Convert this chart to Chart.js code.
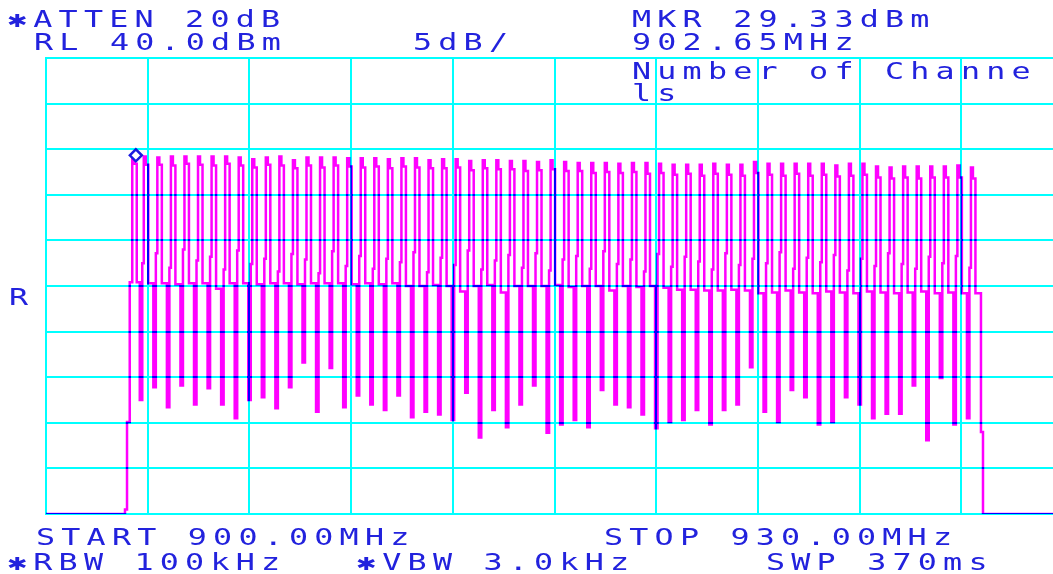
<!DOCTYPE html>
<html>
<head>
<meta charset="utf-8">
<script src="https://cdn.jsdelivr.net/npm/chart.js@4.4.1/dist/chart.umd.min.js"></script>
<style>
  html, body { margin: 0; padding: 0; background: #fff; overflow: hidden; }
  canvas { display: block; }
</style>
</head>
<body>
<canvas id="sa" width="1075" height="574" style="width:1075px;height:574px"></canvas>
<script>
// Analyzer settings
const START_MHZ = 900;
const STOP_MHZ = 930;
const REF_DBM = 40;
const DB_PER_DIV = 5;
const DIVS = 10;

// Marker readout
const markerMHz = 902.65;
const markerDbm = 29.33;

// Left edge of each channel burst (MHz)
const channelStartMHz = [
  902.50, 902.84, 903.24, 903.64, 904.04, 904.44, 904.84, 905.24, 905.64, 906.04,
  906.44, 906.84, 907.24, 907.64, 908.04, 908.44, 908.84, 909.24, 909.64, 910.04,
  910.44, 910.84, 911.24, 911.64, 912.04, 912.44, 912.84, 913.24, 913.64, 914.04,
  914.44, 914.84, 915.24, 915.64, 916.04, 916.44, 916.84, 917.24, 917.64, 918.04,
  918.44, 918.84, 919.24, 919.64, 920.04, 920.44, 920.84, 921.24, 921.64, 922.04,
  922.44, 922.84, 923.24, 923.64, 924.04, 924.44, 924.84, 925.24, 925.64, 926.04,
  926.44, 926.84, 927.24
];

// Peak level of each channel (dBm)
const peakDbm = [
  29.33, 29.2, 29.1, 29.2, 29.2, 29.2, 29.2, 29.2, 29.1, 28.9,
  29.1, 29.2, 28.8, 29.1, 29.1, 29.1, 29.0, 29.0, 29.0, 28.9,
  29.0, 29.0, 28.8, 28.9, 28.9, 28.7, 28.8, 28.8, 28.7, 28.7,
  28.6, 28.8, 28.6, 28.5, 28.5, 28.5, 28.4, 28.5, 28.5, 28.4,
  28.3, 28.3, 28.3, 28.4, 28.3, 28.3, 28.6, 28.4, 28.4, 28.4,
  28.4, 28.4, 28.2, 28.4, 28.4, 28.1, 28.0, 28.1, 28.1, 28.1,
  28.1, 28.2, 28.0
];

// Right shoulder just below each peak (dBm)
const shoulderDbm = [
  28.4, 28.3, 28.3, 28.2, 28.4, 28.3, 28.2, 28.4, 28.2, 28.0,
  28.3, 28.2, 27.9, 28.2, 28.0, 28.2, 28.1, 28.0, 28.1, 27.9,
  28.1, 28.0, 27.9, 27.9, 28.0, 27.7, 27.9, 27.8, 27.8, 27.6,
  27.7, 27.8, 27.6, 27.6, 27.4, 27.5, 27.4, 27.5, 27.3, 27.4,
  27.2, 27.3, 27.1, 27.3, 27.2, 27.1, 27.4, 27.2, 27.1, 27.3,
  27.1, 27.2, 27.0, 27.1, 27.2, 26.9, 26.8, 26.9, 26.8, 26.9,
  26.9, 26.9, 26.8
];

// Step on the rising edge of each channel (dBm)
const stepDbm = [
  15.4, 17.5, 18.6, 17.0, 19.0, 17.8, 18.2, 16.8, 18.9, 17.4,
  18.0, 16.6, 18.5, 17.9, 16.4, 18.8, 17.2, 18.3, 16.9, 18.0,
  17.6, 18.7, 16.5, 18.1, 17.3, 18.9, 16.8, 17.8, 18.4, 17.0,
  18.6, 16.7, 17.9, 18.3, 16.9, 18.8, 17.4, 17.9, 16.6, 18.5,
  17.1, 18.2, 17.7, 16.8, 18.6, 17.3, 18.0, 17.5, 18.7, 16.9,
  18.1, 17.6, 18.4, 16.7, 18.0, 17.2, 18.6, 17.4, 16.9, 18.2,
  17.5, 18.3, 17.0
];

// Level the trace settles to after each channel (dBm)
const shelfDbm = [
  15.4, 15.3, 15.3, 15.2, 15.3, 15.3, 14.7, 15.3, 15.3, 15.2,
  15.3, 15.3, 15.2, 15.3, 15.3, 15.3, 15.2, 15.3, 15.2, 15.3,
  15.0, 15.0, 15.1, 15.0, 14.4, 15.0, 15.1, 14.3, 15.0, 15.0,
  15.0, 15.1, 14.9, 15.0, 15.0, 14.5, 15.0, 14.9, 15.0, 14.8,
  14.6, 14.6, 14.5, 14.5, 14.6, 14.5, 14.2, 14.3, 14.5, 14.3,
  14.2, 14.4, 14.3, 14.2, 14.4, 14.3, 14.2, 14.3, 14.4, 14.2,
  14.3, 14.2, 14.2
];

// Minimum between neighbouring channels (dBm)
const dipDbm = [
  2.5, 3.9, 1.7, 4.1, 2.0, 3.8, 2.0, 0.5, 2.5, 2.8,
  1.6, 3.9, 6.6, 1.2, 6.0, 1.7, 3.0, 2.0, 1.4, 3.0,
  0.6, 1.2, 0.9, 0.3, 3.3, -1.6, 1.4, -0.5, 2.0, 4.1,
  -1.1, -0.2, 0.3, -0.5, 3.6, 2.0, 1.7, 0.9, -0.6, 0.1,
  0.3, 1.4, -0.2, 1.4, 2.0, 6.1, 1.2, 0.1, 3.6, 2.8,
  -0.2, 0.1, 2.8, 2.0, 0.5, 1.0, 1.0, 4.1, -1.9, 4.9,
  -0.2, 0.5
];

// Noise floor and band edges (MHz, dBm)
const leadIn = [
  [900.00, -10], [902.33, -10], [902.33, -9.5], [902.39, -9.5],
  [902.39, 0.1], [902.47, 0.1], [902.47, 15.4]
];
const leadOut = [
  [927.58, 14.2], [927.58, -1.0], [927.64, -1.0], [927.64, -10], [930.00, -10]
];

const TEXT_BLUE = '#2222dd';
const TRACE = '#ff00ff';
const GRATICULE = '#00ffff';

// one display column, in MHz
const COL = (STOP_MHZ - START_MHZ) / 1017;

function buildTrace() {
  const pts = leadIn.map(([x, y]) => ({ x, y }));
  channelStartMHz.forEach((r, k) => {
    if (k > 0) {
      pts.push(
        { x: r - 2.5 * COL, y: shelfDbm[k - 1] },
        { x: r - 2.5 * COL, y: dipDbm[k - 1] },
        { x: r, y: dipDbm[k - 1] }
      );
    }
    pts.push(
      { x: r, y: stepDbm[k] },
      { x: r + 1.5 * COL, y: stepDbm[k] },
      { x: r + 1.5 * COL, y: peakDbm[k] },
      { x: r + 3.5 * COL, y: peakDbm[k] },
      { x: r + 3.5 * COL, y: shoulderDbm[k] },
      { x: r + 6 * COL, y: shoulderDbm[k] },
      { x: r + 6 * COL, y: shelfDbm[k] }
    );
  });
  leadOut.forEach(([x, y]) => pts.push({ x, y }));
  return pts;
}

const readout = [
  { text: '\u2731ATTEN 20dB', x: 8, y: 27 },
  { text: 'MKR ' + markerDbm.toFixed(2) + 'dBm', x: 632, y: 27 },
  { text: 'RL ' + REF_DBM.toFixed(1) + 'dBm', x: 34, y: 50 },
  { text: DB_PER_DIV + 'dB/', x: 413, y: 50 },
  { text: markerMHz.toFixed(2) + 'MHz', x: 632, y: 50 },
  { text: 'Number of Channe', x: 632, y: 79 },
  { text: 'ls', x: 632, y: 101 },
  { text: 'R', x: 9, y: 305 },
  { text: 'START ' + START_MHZ.toFixed(2) + 'MHz', x: 36, y: 545 },
  { text: 'STOP ' + STOP_MHZ.toFixed(2) + 'MHz', x: 604, y: 545 },
  { text: '\u2731RBW 100kHz', x: 8, y: 570 },
  { text: '\u2731VBW 3.0kHz', x: 357, y: 570 },
  { text: 'SWP 370ms', x: 766, y: 570 }
];

const PITCH = 25.3;

const screenPlugin = {
  id: 'screen',
  beforeDraw(chart) {
    const ctx = chart.ctx;
    ctx.save();
    ctx.fillStyle = '#ffffff';
    ctx.fillRect(0, 0, chart.width, chart.height);
    ctx.restore();
  },
  afterDatasetsDraw(chart) {
    // graticule is laid over the trace so crossings darken to blue
    chart.ctx.globalCompositeOperation = 'multiply';
  },
  afterDraw(chart) {
    const ctx = chart.ctx;
    ctx.globalCompositeOperation = 'source-over';
    ctx.save();
    ctx.fillStyle = TEXT_BLUE;
    ctx.textBaseline = 'alphabetic';
    ctx.textAlign = 'left';
    ctx.font = '23px "DejaVu Sans Mono", monospace';
    readout.forEach(item => {
      [...item.text].forEach((ch, i) => {
        ctx.save();
        ctx.translate(item.x + i * PITCH, item.y);
        ctx.scale(1.38, 1);
        ctx.fillText(ch, 0, 0);
        ctx.restore();
      });
    });
    ctx.restore();
  }
};

new Chart(document.getElementById('sa'), {
  type: 'scatter',
  data: {
    datasets: [
      {
        data: buildTrace(),
        showLine: true,
        borderColor: TRACE,
        borderWidth: 2.5,
        pointRadius: 0,
        tension: 0,
        order: 2
      },
      {
        data: [{ x: markerMHz, y: markerDbm }],
        showLine: false,
        pointStyle: 'rectRot',
        pointRadius: 6,
        borderWidth: 2.5,
        borderColor: '#1a1ae0',
        backgroundColor: '#ffffff',
        order: 1
      }
    ]
  },
  options: {
    responsive: false,
    animation: false,
    layout: { padding: { left: 46, top: 58, right: 12, bottom: 60 } },
    plugins: { legend: { display: false }, tooltip: { enabled: false } },
    scales: {
      x: {
        type: 'linear',
        min: START_MHZ,
        max: STOP_MHZ,
        ticks: { display: false, stepSize: (STOP_MHZ - START_MHZ) / DIVS },
        grid: { color: GRATICULE, lineWidth: 2, drawTicks: false, z: 1 },
        border: { display: true, color: GRATICULE, width: 2, z: 1 }
      },
      y: {
        type: 'linear',
        min: REF_DBM - DB_PER_DIV * DIVS,
        max: REF_DBM,
        ticks: { display: false, stepSize: DB_PER_DIV },
        grid: { color: GRATICULE, lineWidth: 2, drawTicks: false, z: 1 },
        border: { display: true, color: GRATICULE, width: 2, z: 1 }
      }
    }
  },
  plugins: [screenPlugin]
});
</script>
</body>
</html>
